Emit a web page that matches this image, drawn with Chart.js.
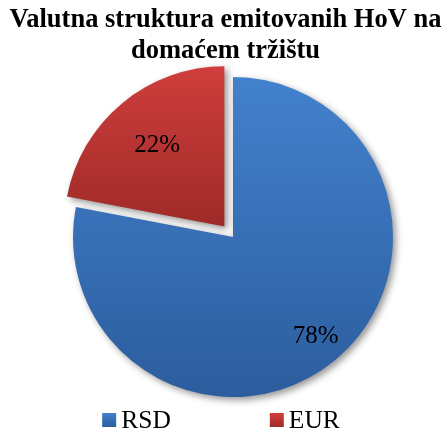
<!DOCTYPE html>
<html><head><meta charset="utf-8">
<script src="https://cdn.jsdelivr.net/npm/chart.js@4.4.0/dist/chart.umd.min.js"></script>
<style>html,body{margin:0;padding:0;background:#fff}</style>
</head><body>
<canvas id="c" width="447" height="432"></canvas>
<script>
const titleLines = ['Valutna struktura emitovanih HoV na', 'domaćem tržištu'];
const categories = ['RSD', 'EUR'];
const shares = [78, 22];
const valueLabels = ['78%', '22%'];

const R = 160;
const fillStops = [['#4381CD', '#2C5D9E'], ['#D23F3D', '#A02B29']];
const flatFill = ['#3B73BD', '#BE3835'];
const labelFrac = [0.81, 0.66];
const SERIF = '"Liberation Serif", "Times New Roman", serif';

function sliceFill(context) {
  const chart = context.chart;
  const i = context.dataIndex;
  const ca = chart.chartArea;
  if (!ca || i === undefined) return flatFill[i || 0];
  const cy = (ca.top + ca.bottom) / 2;
  let y0 = cy - R, y1 = cy + R;
  if (i === 1) { y0 = cy - R - 11; y1 = cy - 5; }
  const g = chart.ctx.createLinearGradient(0, y0, 0, y1);
  g.addColorStop(0, fillStops[i][0]);
  g.addColorStop(1, fillStops[i][1]);
  return g;
}

const shadowPlugin = {
  id: 'shadow',
  beforeDatasetsDraw(chart) {
    const c = chart.ctx;
    c.save();
    c.shadowColor = 'rgba(0,0,0,0.42)';
    c.shadowBlur = 7;
    c.shadowOffsetX = 3;
    c.shadowOffsetY = 3;
  },
  afterDatasetsDraw(chart) { chart.ctx.restore(); }
};

const titlePlugin = {
  id: 'titleText',
  afterDraw(chart, args, opts) {
    const c = chart.ctx;
    c.save();
    c.font = 'bold ' + opts.size + 'px ' + SERIF;
    c.fillStyle = '#000';
    c.textAlign = 'center';
    c.textBaseline = 'alphabetic';
    titleLines.forEach((t, i) => c.fillText(t, opts.centerX, opts.baselines[i]));
    c.restore();
  }
};

const labelPlugin = {
  id: 'sliceLabels',
  afterDraw(chart) {
    const c = chart.ctx;
    const meta = chart.getDatasetMeta(0);
    c.save();
    c.font = '25px ' + SERIF;
    c.fillStyle = '#000';
    c.textAlign = 'center';
    c.textBaseline = 'middle';
    meta.data.forEach((arc, i) => {
      const p = arc.getProps(['x', 'y', 'startAngle', 'endAngle', 'outerRadius']);
      const mid = (p.startAngle + p.endAngle) / 2;
      const off = (arc.options.offset || 0) / 4;
      const d = off + p.outerRadius * labelFrac[i];
      c.fillText(valueLabels[i], p.x + Math.cos(mid) * d, p.y + Math.sin(mid) * d);
    });
    c.restore();
  }
};

const legendPlugin = {
  id: 'bottomLegend',
  afterDraw(chart, args, opts) {
    const c = chart.ctx;
    c.save();
    c.font = opts.size + 'px ' + SERIF;
    c.textBaseline = 'middle';
    c.textAlign = 'left';
    const box = opts.box, gap = opts.textGap, itemGap = opts.itemGap;
    const widths = categories.map(t => box + gap + c.measureText(t).width);
    const total = widths.reduce((a, b) => a + b, 0) + itemGap * (categories.length - 1);
    let x = opts.centerX - total / 2;
    const y = opts.y;
    categories.forEach((t, i) => {
      const g = c.createLinearGradient(0, y - box / 2, 0, y + box / 2);
      g.addColorStop(0, fillStops[i][0]);
      g.addColorStop(1, fillStops[i][1]);
      c.fillStyle = g;
      c.fillRect(x, y - box / 2, box, box);
      c.fillStyle = '#000';
      c.fillText(t, x + box + gap, y + 1);
      x += widths[i] + itemGap;
    });
    c.restore();
  }
};

new Chart(document.getElementById('c'), {
  type: 'pie',
  data: {
    labels: categories,
    datasets: [{
      data: shares,
      backgroundColor: sliceFill,
      borderWidth: 0,
      offset: [0, 54]
    }]
  },
  options: {
    responsive: false,
    animation: false,
    radius: R,
    layout: { padding: { left: 19, right: 0, top: 65, bottom: 23 } },
    plugins: {
      legend: { display: false },
      tooltip: { enabled: false },
      title: { display: false },
      titleText: { size: 26.5, centerX: 225.5, baselines: [27, 57.5] },
      bottomLegend: { size: 25.5, box: 14, textGap: 5, itemGap: 99, centerX: 221, y: 420 }
    }
  },
  plugins: [shadowPlugin, titlePlugin, labelPlugin, legendPlugin]
});
</script>
</body></html>
